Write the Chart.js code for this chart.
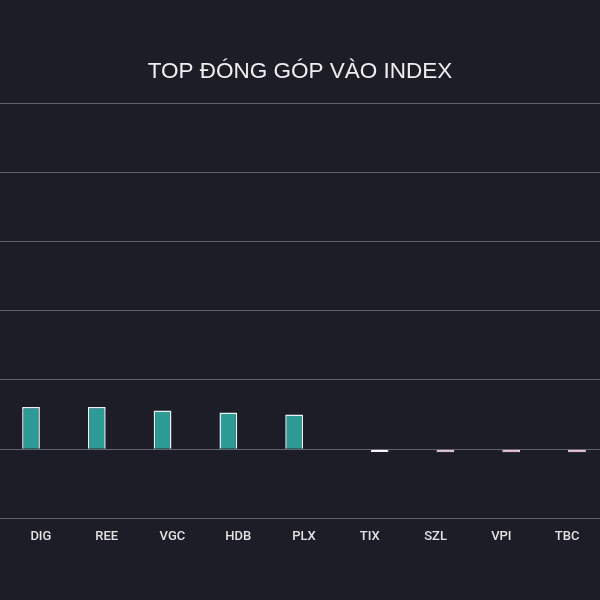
<!DOCTYPE html>
<html>
<head>
<meta charset="utf-8">
<script src="https://cdn.jsdelivr.net/npm/chart.js@4"></script>
<style>
  html, body { margin: 0; padding: 0; background: #1d1d27; }
  #wrap { width: 600px; height: 600px; }
</style>
</head>
<body>
<div id="wrap"><canvas id="c" width="600" height="600"></canvas></div>
<script>
const categories = ["DIG", "REE", "VGC", "HDB", "PLX", "TIX", "SZL", "VPI", "TBC"];
const positiveValues = [0.61, 0.61, 0.56, 0.53, 0.50, null, null, null, null];
const negativeValues = [null, null, null, null, null, -0.04, -0.045, -0.045, -0.045];
const yTicks = [-1, 0, 1, 2, 3, 4, 5];

const ctx = document.getElementById('c').getContext('2d');
new Chart(ctx, {
  type: 'bar',
  data: {
    labels: categories,
    datasets: [
      {
        label: 'Tăng',
        data: positiveValues,
        backgroundColor: '#2e9a96',
        borderColor: '#e6f4f2',
        borderWidth: 1.5,
        categoryPercentage: 0.6,
        barPercentage: 0.9
      },
      {
        label: 'Giảm',
        data: negativeValues,
        backgroundColor: ['#fff','#fff','#fff','#fff','#fff','#ffffff','#ecc4ce','#ecc4ce','#ecc4ce'],
        borderColor: '#f6eef0',
        borderWidth: 1,
        categoryPercentage: 0.6,
        barPercentage: 0.9
      }
    ]
  },
  options: {
    responsive: false,
    animation: false,
    layout: { padding: { left: 0, right: 0, top: 0, bottom: 44 } },
    plugins: {
      legend: { display: false },
      tooltip: { enabled: false },
      title: {
        display: true,
        text: 'TOP ĐÓNG GÓP VÀO INDEX',
        color: '#eeeeee',
        font: { family: 'Liberation Sans, Arial, sans-serif', size: 22.5, weight: 'normal' },
        padding: { top: 58, bottom: 18 }
      }
    },
    scales: {
      x: {
        grid: { display: false, drawTicks: false },
        border: { display: false },
        ticks: {
          color: '#e2e2e2',
          font: { family: 'Roboto, sans-serif', size: 13, weight: '500' },
          padding: 11
        }
      },
      y: {
        min: -1,
        max: 5,
        afterBuildTicks: (axis) => { axis.ticks = yTicks.map(v => ({ value: v })); },
        grid: { color: '#63636e', lineWidth: 1, drawTicks: true, tickLength: 8 },
        border: { display: false },
        ticks: { display: false }
      }
    }
  }
});
</script>
</body>
</html>
